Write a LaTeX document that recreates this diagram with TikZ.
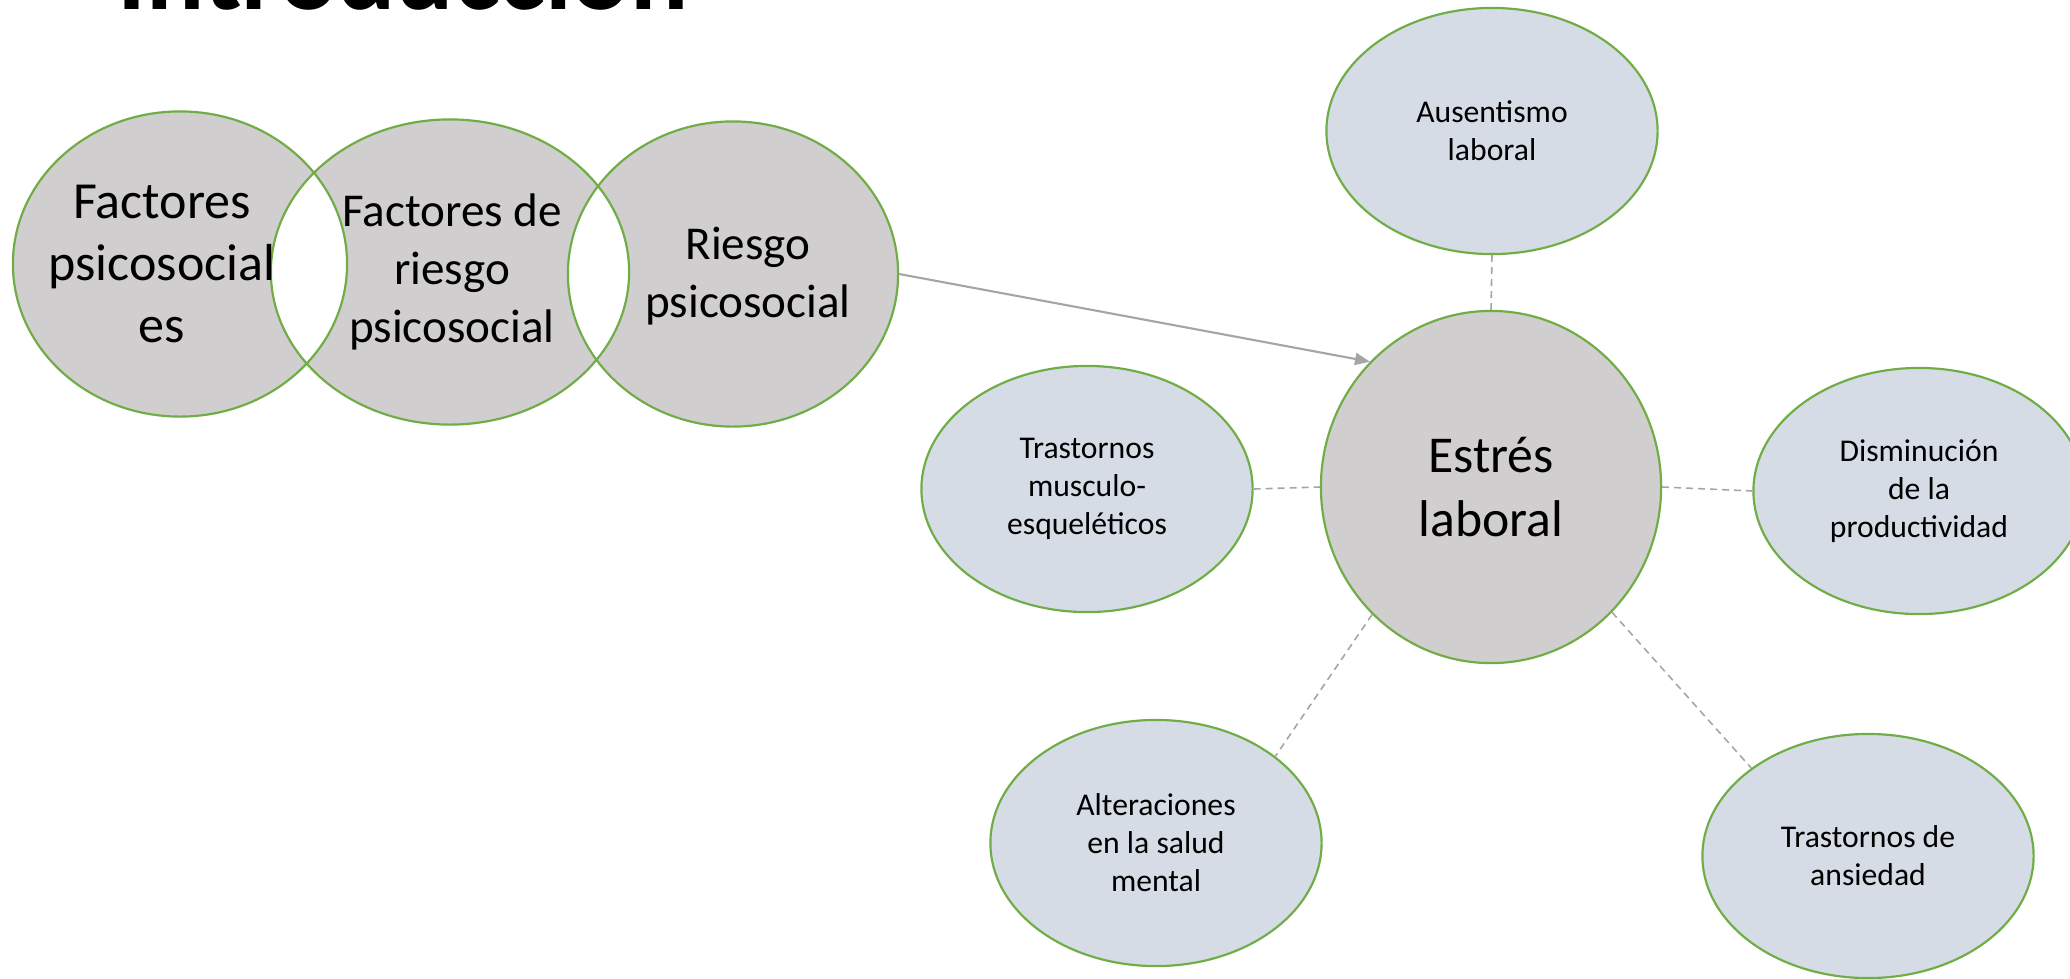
\documentclass[tikz,border=0pt]{standalone}
\usepackage{fontspec}
\setmainfont{Carlito}
\usetikzlibrary{arrows.meta,shapes.geometric}
\definecolor{fillgray}{HTML}{D0CECE}
\definecolor{fillblue}{HTML}{D6DCE5}
\definecolor{edgegreen}{HTML}{70AD47}
\definecolor{linegray}{HTML}{A5A5A5}
\tikzset{
  ell/.style={ellipse, draw=edgegreen, line width=0.62pt, inner sep=0pt},
  smallell/.style={ell, fill=fillblue, minimum width=3.31cm, minimum height=2.46cm,
    align=center, font=\fontsize{9}{10.8}\selectfont},
  bigtext/.style={align=center, font=\fontsize{14.8}{17.6}\selectfont},
  midtext/.style={align=center, font=\fontsize{13.4}{16.4}\selectfont},
  dashlink/.style={draw=linegray, line width=0.45pt, dash pattern=on 0.07cm off 0.05cm},
  arrowlink/.style={draw=linegray, line width=0.6pt, -{Triangle[length=0.15cm, width=0.12cm]}}
}
\begin{document}
\begin{tikzpicture}[x=0.01cm, y=-0.01cm]
\useasboundingbox (0,0) rectangle (2070,978);
\clip (0,0) rectangle (2070,978);
% title (only its bottom shows)
\node[anchor=base, inner sep=0pt, font=\fontsize{30.9}{36}\selectfont\bfseries] (title) at (403,9) {Introducción};
% left overlapping circles: fills
\fill[fillgray] (180,264) ellipse [x radius=1.67cm, y radius=1.525cm];
\fill[fillgray] (450,272) ellipse [x radius=1.79cm, y radius=1.525cm];
\fill[fillgray] (733,274) ellipse [x radius=1.65cm, y radius=1.525cm];
\begin{scope}
  \clip (180,264) ellipse [x radius=1.67cm, y radius=1.525cm];
  \fill[white] (450,272) ellipse [x radius=1.79cm, y radius=1.525cm];
\end{scope}
\begin{scope}
  \clip (450,272) ellipse [x radius=1.79cm, y radius=1.525cm];
  \fill[white] (733,274) ellipse [x radius=1.65cm, y radius=1.525cm];
\end{scope}
\node[ell, minimum width=3.34cm, minimum height=3.05cm] (c1) at (180,264) {};
\node[ell, minimum width=3.58cm, minimum height=3.05cm] (c2) at (450,272) {};
\node[ell, minimum width=3.30cm, minimum height=3.05cm] (c3) at (733,274) {};
\node[bigtext, xshift=-0.18cm] (t1) at (c1) {Factores\\psicosocial\\es};
\node[midtext, xshift=0.02cm] (t2) at (c2) {Factores de\\riesgo\\psicosocial};
\node[midtext, xshift=0.15cm, yshift=-0.02cm] (t3) at (c3) {Riesgo\\psicosocial};
% central node
\node[ell, fill=fillgray, minimum width=3.40cm, minimum height=3.52cm,
      align=center, font=\fontsize{14.7}{18}\selectfont] (estres) at (1491,487) {Estrés\\laboral};
% satellites
\node[smallell] (aus) at (1492,131) {Ausentismo\\laboral};
\node[smallell] (musc) at (1087,489) {Trastornos\\musculo-\\esqueléticos};
\node[smallell] (dism) at (1919,491) {Disminución\\de la\\productividad};
\node[smallell] (alt) at (1156,843) {Alteraciones\\en la salud\\mental};
\node[smallell, minimum height=2.44cm] (ans) at (1868,856) {Trastornos de\\ansiedad};
% connectors
\draw[arrowlink] (c3.east) -- (estres.134);
\draw[dashlink] (aus.south) -- (estres.north);
\draw[dashlink] (musc.east) -- (estres.west);
\draw[dashlink] (estres.east) -- (dism.west);
\draw[dashlink] (estres.-133) -- (alt.36.6);
\draw[dashlink] (estres.-46) -- (ans.143.4);
\end{tikzpicture}
\end{document}
